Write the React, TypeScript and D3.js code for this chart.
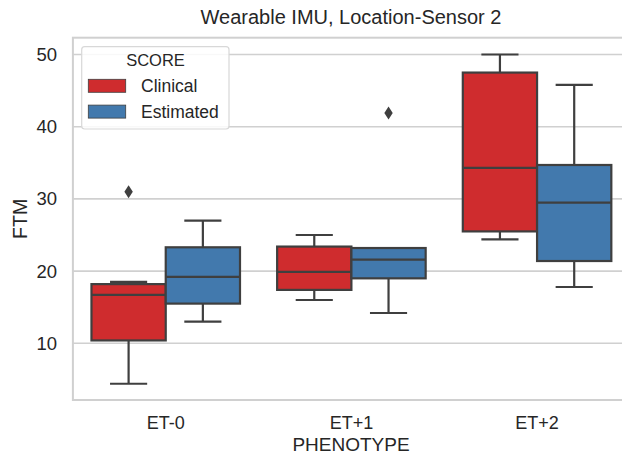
import React from "react";
import * as d3 from "d3";

const categories = ["ET-0", "ET+1", "ET+2"];
const scores = ["Clinical", "Estimated"];
const scoreColors = ["#cf2c2e", "#4279ad"];

const clinicalLow = [4.4, 16.0, 24.4];
const clinicalQ1 = [10.4, 17.4, 25.5];
const clinicalMedian = [16.7, 19.9, 34.3];
const clinicalQ3 = [18.2, 23.4, 47.5];
const clinicalHigh = [18.5, 25.0, 50.0];
const clinicalOutliers = [[31.0], [], []];

const estimatedLow = [13.0, 14.2, 17.8];
const estimatedQ1 = [15.5, 19.0, 21.4];
const estimatedMedian = [19.2, 21.6, 29.5];
const estimatedQ3 = [23.3, 23.2, 34.7];
const estimatedHigh = [27.0, 23.2, 45.8];
const estimatedOutliers = [[], [41.9], []];

const yTicks = [10, 20, 30, 40, 50];

const W = 622;
const H = 455;
const left = 72.9;
const right = 629.9;
const top = 37.7;
const bottom = 400;

const FONT = "'Liberation Sans', Arial, sans-serif";
const TEXT = "#262626";
const EDGE = "#3f3f3f";
const GRID = "#d0d0d0";

export default function App() {
  const x = d3.scaleBand<string>().domain(categories).range([left, right]).padding(0);
  const y = d3.scaleLinear().domain([2.15, 52.33]).range([bottom, top]);
  const hue = d3.scaleBand<string>().domain(scores).range([0, x.bandwidth() * 0.8]);

  const series = [
    { low: clinicalLow, q1: clinicalQ1, med: clinicalMedian, q3: clinicalQ3, high: clinicalHigh, out: clinicalOutliers },
    { low: estimatedLow, q1: estimatedQ1, med: estimatedMedian, q3: estimatedQ3, high: estimatedHigh, out: estimatedOutliers },
  ];

  const boxes: React.ReactNode[] = [];
  categories.forEach((c, ci) => {
    const start = (x(c) as number) + x.bandwidth() * 0.1;
    scores.forEach((s, si) => {
      const d = series[si];
      const bx = start + (hue(s) as number);
      const bw = hue.bandwidth();
      const cx = bx + bw / 2;
      const capHalf = bw / 4;
      boxes.push(
        <g key={c + s}>
          <line x1={cx} x2={cx} y1={y(d.q1[ci])} y2={y(d.low[ci])} stroke={EDGE} strokeWidth={2.2} />
          <line x1={cx} x2={cx} y1={y(d.q3[ci])} y2={y(d.high[ci])} stroke={EDGE} strokeWidth={2.2} />
          <line x1={cx - capHalf} x2={cx + capHalf} y1={y(d.low[ci])} y2={y(d.low[ci])} stroke={EDGE} strokeWidth={2.2} />
          <line x1={cx - capHalf} x2={cx + capHalf} y1={y(d.high[ci])} y2={y(d.high[ci])} stroke={EDGE} strokeWidth={2.2} />
          <rect
            x={bx}
            y={y(d.q3[ci])}
            width={bw}
            height={y(d.q1[ci]) - y(d.q3[ci])}
            fill={scoreColors[si]}
            stroke={EDGE}
            strokeWidth={2.2}
          />
          <line x1={bx} x2={bx + bw} y1={y(d.med[ci])} y2={y(d.med[ci])} stroke={EDGE} strokeWidth={2.2} />
          {d.out[ci].map((v, k) => (
            <path
              key={k}
              d={`M${cx},${y(v) - 6.5} L${cx + 4.2},${y(v)} L${cx},${y(v) + 6.5} L${cx - 4.2},${y(v)} Z`}
              fill={EDGE}
            />
          ))}
        </g>
      );
    });
  });

  return (
    <svg
      width={W}
      height={H}
      style={{ position: "absolute", left: 0, top: 0, background: "#fff" }}
      fontFamily={FONT}
    >
      <rect x={0} y={0} width={W} height={H} fill="#fff" />
      {yTicks.map((t) => (
        <line key={t} x1={left} x2={right} y1={y(t)} y2={y(t)} stroke={GRID} strokeWidth={1.6} />
      ))}
      {boxes}
      <rect x={left} y={top} width={right - left} height={bottom - top} fill="none" stroke={GRID} strokeWidth={2} />
      {yTicks.map((t) => (
        <text key={t} x={57} y={y(t)} dy="0.35em" textAnchor="end" fontSize={18.5} fill={TEXT}>
          {t}
        </text>
      ))}
      {categories.map((c) => (
        <text
          key={c}
          x={(x(c) as number) + x.bandwidth() / 2}
          y={428.5}
          textAnchor="middle"
          fontSize={18}
          fill={TEXT}
        >
          {c}
        </text>
      ))}
      <text x={351} y={450.5} textAnchor="middle" fontSize={19} fill={TEXT}>
        PHENOTYPE
      </text>
      <text
        transform={`translate(27,${(top + bottom) / 2}) rotate(-90)`}
        textAnchor="middle"
        fontSize={19.5}
        fill={TEXT}
      >
        FTM
      </text>
      <text x={351} y={24} textAnchor="middle" fontSize={20} fill={TEXT}>
        Wearable IMU, Location-Sensor 2
      </text>
      <g>
        <rect x={81.7} y={46.7} width={147.3} height={82.3} rx={3} fill="#fff" fillOpacity={0.85} stroke="#d8d8d8" strokeWidth={1.2} />
        <text x={155.5} y={60.7} dy="0.35em" textAnchor="middle" fontSize={16.5} fill={TEXT}>
          SCORE
        </text>
        {scores.map((s, i) => (
          <g key={s}>
            <rect
              x={88.3}
              y={79.3 + i * 25.8}
              width={37.4}
              height={13}
              fill={scoreColors[i]}
              stroke={EDGE}
              strokeWidth={0.8}
            />
            <text x={141} y={85.8 + i * 25.8} dy="0.35em" fontSize={17.5} fill={TEXT}>
              {s}
            </text>
          </g>
        ))}
      </g>
    </svg>
  );
}
